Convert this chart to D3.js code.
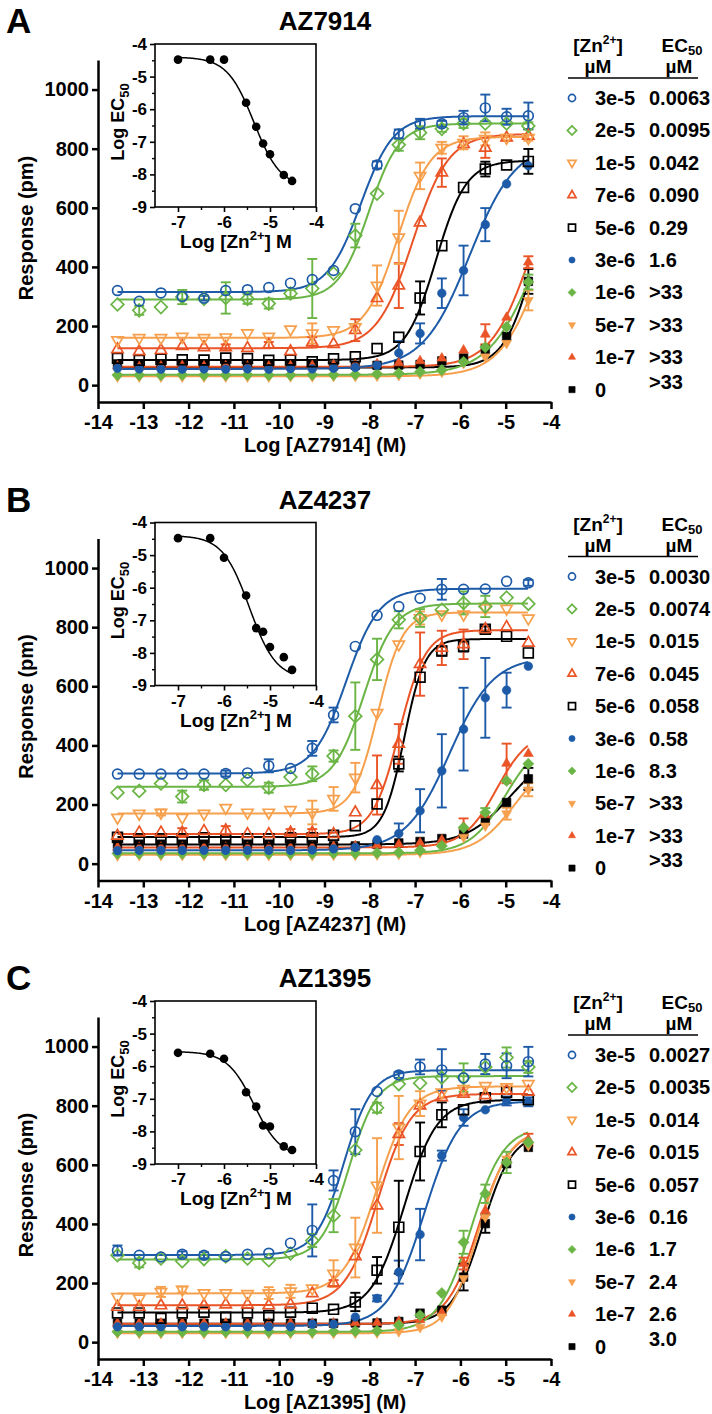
<!DOCTYPE html>
<html><head><meta charset="utf-8">
<script src="https://cdn.jsdelivr.net/npm/d3@7"></script>
<style>
body{margin:0;background:#fff;}
svg{display:block;font-family:"Liberation Sans",Arial,Helvetica,sans-serif;font-weight:bold;}
</style></head><body>
<svg id="chart" width="712" height="1414"></svg>
<script>
// ---------- shared categories ----------
const panelLetters = ["A", "B", "C"];
const compounds = ["AZ7914", "AZ4237", "AZ1395"];
const znLabels = ["3e-5", "2e-5", "1e-5", "7e-6", "5e-6", "3e-6", "1e-6", "5e-7", "1e-7", "0"];
const seriesColors = ["#1d5ba8", "#6ab545", "#f6a04d", "#ea5426", "#000000", "#1d5ba8", "#6ab545", "#f6a04d", "#ea5426", "#000000"];
const seriesShapes = ["circle", "diamond", "triDown", "triUp", "square", "circle", "diamond", "triDown", "triUp", "square"];
const seriesFilled = [false, false, false, false, false, true, true, true, true, true];
const logConc = [-13.57, -13.09, -12.61, -12.14, -11.66, -11.18, -10.70, -10.23, -9.75, -9.27, -8.80, -8.32, -7.84, -7.36, -6.89, -6.41, -5.93, -5.45, -4.98, -4.50];
const xTicks = [-14, -13, -12, -11, -10, -9, -8, -7, -6, -5, -4];
const yTicks = [0, 200, 400, 600, 800, 1000];
const insetXTicks = [-7, -6, -5, -4];
const insetXMinor = [-6.5, -5.5, -4.5];
const insetYTicks = [-4, -5, -6, -7, -8, -9];
const insetYMinor = [-4.5, -5.5, -6.5, -7.5, -8.5];
const insetLogZn = [-7, -6.3, -6, -5.52, -5.3, -5.15, -5, -4.7, -4.52];

// ---------- panel A (AZ7914) ----------
const respA = [
  [320, 284, 312, 300, 294, 320, 323, 330, 345, 357, 388, 597, 745, 850, 884, 884, 905, 938, 908, 911],
  [273, 253, 264, 298, 292, 295, 292, 276, 310, 327, 378, 506, 648, 813, 854, 867, 885, 885, 885, 877],
  [152, 160, 160, 164, 160, 162, 176, 164, 189, 175, 186, 196, 337, 500, 708, 803, 820, 833, 837, 837],
  [121, 114, 118, 132, 128, 128, 125, 136, 114, 145, 139, 186, 294, 337, 550, 719, 815, 803, 837, 843],
  [91, 84, 88, 86, 85, 92, 90, 84, 85, 79, 89, 96, 124, 162, 295, 472, 669, 731, 745, 757],
  [57, 55, 54, 54, 55, 54, 55, 54, 56, 55, 57, 60, 67, 109, 175, 311, 388, 543, 681, 742],
  [34, 34, 34, 35, 34, 34, 35, 34, 34, 35, 35, 36, 38, 40, 45, 51, 79, 128, 197, 349],
  [28, 28, 28, 28, 28, 28, 28, 28, 29, 29, 30, 30, 31, 33, 38, 44, 74, 96, 142, 287],
  [64, 62, 64, 66, 64, 65, 64, 64, 65, 66, 68, 70, 72, 75, 82, 91, 118, 172, 229, 416],
  [72, 68, 70, 70, 70, 72, 70, 70, 68, 68, 66, 67, 67, 68, 70, 82, 92, 121, 165, 351]
];
const errA = [
  [0, 0, 0, 0, 8, 0, 0, 0, 0, 0, 0, 0, 12, 15, 17, 10, 23, 45, 27, 45],
  [0, 15, 0, 24, 0, 53, 17, 17, 12, 100, 0, 40, 0, 20, 22, 10, 15, 0, 0, 12],
  [0, 0, 0, 0, 0, 0, 0, 0, 0, 34, 0, 0, 68, 90, 45, 20, 22, 22, 10, 10],
  [0, 0, 0, 0, 0, 10, 0, 10, 0, 17, 0, 37, 0, 76, 0, 48, 0, 34, 0, 0],
  [0, 0, 0, 0, 0, 0, 0, 0, 0, 0, 0, 0, 0, 0, 56, 0, 0, 25, 0, 42],
  [0, 0, 0, 0, 0, 0, 0, 0, 0, 0, 0, 0, 0, 40, 34, 50, 84, 56, 0, 0],
  [0, 0, 0, 0, 0, 0, 0, 0, 0, 0, 0, 0, 0, 0, 0, 0, 0, 0, 0, 25],
  [0, 0, 0, 0, 0, 0, 0, 0, 0, 0, 0, 0, 0, 0, 0, 0, 0, 0, 0, 34],
  [0, 0, 0, 0, 0, 0, 0, 0, 0, 0, 0, 0, 0, 0, 0, 0, 0, 34, 0, 20],
  [0, 0, 0, 0, 0, 0, 0, 0, 0, 0, 0, 0, 0, 0, 0, 0, 0, 0, 0, 42]
];
// fitted 4-parameter curves: [bottom, top, logEC50, hill]
const fitA = [
  [315, 910, -8.2, 1.2], [290, 885, -8.02, 1.3], [160, 840, -7.38, 1.2], [125, 850, -7.05, 1.1],
  [85, 760, -6.54, 1.3], [55, 820, -5.8, 0.85], [35, 800, -4.31, 0.83], [30, 800, -4.18, 0.94],
  [62, 800, -4.465, 1.0], [60, 800, -4.355, 1.3]
];
const ec50A = ["0.0063", "0.0095", "0.042", "0.090", "0.29", "1.6", ">33", ">33", ">33", ">33"];
const insetLogEC50A = [-4.48, -4.48, -4.48, -5.8, -6.54, -7.05, -7.38, -8.02, -8.2];
const insetFitA = [-4.4, -8.4, -5.35, 1.5]; // [top, bottom, logIC50, slope]

// ---------- panel B (AZ4237) ----------
const respB = [
  [303, 303, 303, 303, 303, 305, 307, 331, 322, 390, 503, 735, 840, 870, 898, 928, 928, 929, 955, 950],
  [240, 246, 271, 227, 266, 266, 283, 257, 293, 304, 364, 499, 691, 825, 831, 859, 882, 870, 900, 879],
  [156, 169, 173, 156, 169, 189, 173, 173, 182, 173, 219, 291, 510, 742, 831, 843, 843, 864, 863, 830],
  [94, 105, 105, 105, 110, 112, 100, 100, 105, 105, 100, 173, 266, 405, 675, 730, 742, 793, 800, 747],
  [89, 84, 84, 84, 88, 84, 84, 84, 88, 88, 96, 128, 202, 337, 631, 719, 735, 793, 769, 713],
  [44, 45, 45, 45, 45, 45, 45, 45, 45, 46, 50, 55, 81, 102, 179, 314, 455, 561, 587, 668],
  [34, 34, 34, 34, 34, 34, 34, 34, 34, 34, 35, 35, 36, 38, 45, 60, 122, 173, 280, 338],
  [27, 28, 28, 28, 28, 28, 28, 28, 28, 28, 29, 29, 30, 32, 38, 60, 90, 128, 169, 250],
  [55, 55, 55, 55, 55, 55, 55, 55, 55, 56, 58, 60, 62, 65, 70, 80, 125, 165, 339, 372],
  [65, 66, 66, 66, 66, 66, 66, 66, 67, 65, 61, 60, 65, 70, 75, 85, 100, 145, 207, 287]
];
const errB = [
  [0, 0, 0, 0, 0, 10, 0, 22, 0, 25, 25, 0, 0, 0, 0, 35, 0, 0, 0, 10],
  [0, 0, 0, 20, 16, 0, 0, 17, 0, 25, 19, 114, 70, 29, 30, 0, 39, 36, 0, 0],
  [0, 0, 10, 0, 0, 0, 0, 0, 0, 40, 40, 50, 0, 0, 22, 0, 0, 0, 0, 0],
  [0, 0, 0, 15, 0, 15, 0, 0, 12, 12, 0, 0, 100, 67, 107, 58, 50, 0, 0, 0],
  [0, 0, 0, 0, 0, 0, 0, 0, 0, 0, 0, 0, 0, 25, 0, 15, 17, 10, 0, 0],
  [0, 0, 0, 0, 0, 0, 0, 0, 0, 0, 0, 0, 0, 34, 73, 124, 140, 135, 59, 0],
  [0, 0, 0, 0, 0, 0, 0, 0, 0, 0, 0, 0, 0, 0, 0, 0, 0, 15, 0, 0],
  [0, 0, 0, 0, 0, 0, 0, 0, 0, 0, 0, 0, 0, 0, 0, 0, 0, 0, 20, 22],
  [0, 0, 0, 0, 0, 0, 0, 0, 0, 0, 0, 0, 0, 0, 0, 0, 28, 0, 67, 0],
  [0, 0, 0, 0, 0, 0, 0, 0, 0, 0, 0, 0, 0, 0, 0, 0, 0, 0, 0, 37]
];
const fitB = [
  [305, 930, -8.52, 1.2], [260, 880, -8.13, 1.3], [170, 850, -7.82, 1.6], [100, 790, -7.35, 1.5],
  [90, 760, -7.24, 1.9], [45, 700, -6.24, 0.9], [35, 430, -5.0, 1.1], [30, 370, -4.8, 1.0],
  [55, 450, -5.2, 1.2], [65, 390, -4.9, 0.9]
];
const ec50B = ["0.0030", "0.0074", "0.015", "0.045", "0.058", "0.58", "8.3", ">33", ">33", ">33"];
const insetLogEC50B = [-4.48, -4.48, -5.08, -6.24, -7.24, -7.35, -7.82, -8.13, -8.52];
const insetFitB = [-4.4, -8.8, -5.45, 1.5];

// ---------- panel C (AZ1395) ----------
const respC = [
  [310, 294, 288, 297, 294, 290, 297, 301, 335, 378, 547, 712, 848, 904, 931, 921, 894, 941, 935, 949],
  [294, 268, 283, 274, 281, 290, 283, 277, 300, 344, 428, 650, 793, 873, 876, 895, 895, 931, 963, 931],
  [153, 148, 170, 178, 166, 166, 163, 166, 172, 182, 232, 320, 530, 726, 807, 845, 857, 867, 863, 874],
  [119, 119, 124, 124, 124, 127, 127, 124, 127, 165, 200, 290, 462, 704, 800, 828, 840, 835, 850, 847],
  [99, 99, 81, 99, 101, 84, 99, 90, 101, 115, 111, 136, 243, 389, 645, 769, 786, 827, 845, 820],
  [52, 52, 52, 52, 52, 52, 52, 52, 52, 61, 61, 85, 148, 237, 364, 631, 760, 786, 816, 813],
  [35, 35, 35, 35, 35, 35, 35, 35, 35, 35, 36, 37, 38, 57, 91, 166, 338, 502, 608, 676],
  [30, 30, 30, 30, 30, 30, 30, 30, 30, 30, 30, 31, 32, 36, 50, 86, 216, 423, 620, 665],
  [64, 64, 64, 64, 64, 64, 64, 64, 64, 64, 64, 65, 66, 70, 75, 100, 266, 445, 615, 685],
  [64, 64, 64, 64, 64, 64, 64, 64, 64, 64, 64, 65, 65, 70, 98, 108, 220, 401, 604, 659]
];
const errC = [
  [17, 0, 0, 10, 10, 0, 0, 0, 0, 88, 34, 76, 0, 10, 25, 70, 0, 34, 42, 50],
  [0, 15, 0, 0, 0, 0, 0, 0, 0, 22, 56, 0, 17, 0, 0, 0, 48, 0, 34, 20],
  [0, 0, 17, 10, 0, 0, 0, 20, 22, 0, 45, 101, 160, 107, 42, 0, 0, 0, 0, 0],
  [0, 0, 0, 0, 0, 0, 0, 0, 0, 0, 10, 0, 0, 37, 0, 0, 0, 0, 0, 0],
  [0, 0, 0, 0, 0, 0, 0, 0, 0, 0, 0, 31, 45, 157, 98, 42, 0, 0, 0, 0],
  [0, 0, 0, 0, 0, 0, 0, 0, 0, 0, 0, 0, 10, 39, 87, 17, 28, 0, 15, 15],
  [0, 0, 0, 0, 0, 0, 0, 0, 0, 0, 0, 0, 0, 0, 0, 0, 39, 31, 36, 0],
  [0, 0, 0, 0, 0, 0, 0, 0, 0, 0, 0, 0, 0, 0, 0, 0, 0, 0, 0, 0],
  [0, 0, 0, 0, 0, 0, 0, 0, 0, 0, 0, 0, 0, 0, 0, 0, 20, 0, 0, 20],
  [0, 0, 0, 0, 0, 0, 0, 0, 0, 0, 0, 0, 0, 0, 0, 0, 45, 31, 0, 0]
];
const fitC = [
  [295, 920, -8.57, 1.4], [280, 900, -8.46, 1.4], [165, 865, -7.85, 1.2], [125, 840, -7.82, 1.2],
  [100, 820, -7.24, 1.2], [55, 815, -6.8, 1.1], [35, 730, -5.77, 1.2], [30, 720, -5.6, 1.3],
  [62, 720, -5.6, 1.25], [62, 710, -5.52, 1.3]
];
const ec50C = ["0.0027", "0.0035", "0.014", "0.015", "0.057", "0.16", "1.7", "2.4", "2.6", "3.0"];
const insetLogEC50C = [-5.59, -5.62, -5.77, -6.8, -7.24, -7.82, -7.85, -8.46, -8.57];
const insetFitC = [-5.55, -8.8, -5.35, 1.5];

const panels = [
  {resp: respA, err: errA, fit: fitA, ec50: ec50A, inY: insetLogEC50A, inFit: insetFitA},
  {resp: respB, err: errB, fit: fitB, ec50: ec50B, inY: insetLogEC50B, inFit: insetFitB},
  {resp: respC, err: errC, fit: fitC, ec50: ec50C, inY: insetLogEC50C, inFit: insetFitC}
];
const panelOffsets = [0, 478.5, 957];

// ---------- drawing ----------
const svg = d3.select("#chart");
svg.append("rect").attr("width", 712).attr("height", 1414).attr("fill", "#fff");

function symPath(shape, s) {
  if (shape === "circle") return `M${s},0A${s},${s} 0 1,1 ${-s},0A${s},${s} 0 1,1 ${s},0Z`;
  if (shape === "square") return `M${-s},${-s}H${s}V${s}H${-s}Z`;
  if (shape === "diamond") { const d = s * 1.3; return `M0,${-d}L${d},0L0,${d}L${-d},0Z`; }
  const a = s * 2.3, h = a * Math.sqrt(3) / 2;
  if (shape === "triUp") return `M0,${-h * 2 / 3}L${a / 2},${h / 3}L${-a / 2},${h / 3}Z`;
  return `M0,${h * 2 / 3}L${a / 2},${-h / 3}L${-a / 2},${-h / 3}Z`;
}
function drawMarker(g, i, cx, cy, scale) {
  const filled = seriesFilled[i];
  const s = (filled ? 4.3 : 4.9) * scale;
  g.append("path").attr("d", symPath(seriesShapes[i], s))
    .attr("transform", `translate(${cx},${cy})`)
    .attr("fill", filled ? seriesColors[i] : "none")
    .attr("stroke", seriesColors[i])
    .attr("stroke-width", filled ? 0.6 : 1.7);
}
const hill = (p, x) => p[0] + (p[1] - p[0]) / (1 + Math.pow(10, (p[2] - x) * p[3]));
const hillDown = (p, x) => p[1] + (p[0] - p[1]) / (1 + Math.pow(10, (x - p[2]) * p[3]));

const x = d3.scaleLinear().domain([-14, -4]).range([98, 551]);
const y = d3.scaleLinear().domain([-57, 1100]).range([402, 60]);
const ix = d3.scaleLinear().domain([-7.5, -4]).range([155, 316]);
const iy = d3.scaleLinear().domain([-9, -4]).range([207, 44]);

function styleAxis(ax, fs, sw) {
  ax.select(".domain").attr("stroke", "#000").attr("stroke-width", sw);
  ax.selectAll(".tick line").attr("stroke", "#000").attr("stroke-width", sw);
  ax.selectAll(".tick text").attr("fill", "#000").attr("font-size", fs)
    .attr("font-weight", "bold").attr("font-family", '"Liberation Sans",Arial,sans-serif');
}

panels.forEach((P, pi) => {
  const g = svg.append("g").attr("transform", `translate(0,${panelOffsets[pi]})`);

  // panel letter & title
  g.append("text").attr("x", 6).attr("y", 33).attr("font-size", 35).text(panelLetters[pi]);
  g.append("text").attr("x", 325).attr("y", 30).attr("text-anchor", "middle").attr("font-size", 26).text(compounds[pi]);

  // main axes
  const ax = g.append("g").attr("transform", "translate(0,402)")
    .call(d3.axisBottom(x).tickValues(xTicks).tickSize(7).tickSizeOuter(0).tickPadding(6).tickFormat(d => String(d)));
  styleAxis(ax, 20, 2.5);
  const ay = g.append("g").attr("transform", "translate(98,0)")
    .call(d3.axisLeft(y).tickValues(yTicks).tickSize(6).tickSizeOuter(0).tickPadding(3).tickFormat(d => String(d)));
  styleAxis(ay, 20, 2.5);
  g.append("text").attr("x", 325).attr("y", 452).attr("text-anchor", "middle").attr("font-size", 20)
    .text(`Log [${compounds[pi]}] (M)`);
  g.append("text").attr("transform", "translate(33,228) rotate(-90)").attr("text-anchor", "middle")
    .attr("font-size", 20).text("Response (pm)");

  // curves
  const xs = d3.range(logConc[0], logConc[19] + 0.001, 0.02);
  const line = d3.line().x(d => x(d[0])).y(d => y(d[1]));
  for (let i = 9; i >= 0; i--) {
    g.append("path").attr("d", line(xs.map(v => [v, hill(P.fit[i], v)])))
      .attr("fill", "none").attr("stroke", seriesColors[i]).attr("stroke-width", 2);
  }
  // error bars
  for (let i = 9; i >= 0; i--) {
    P.resp[i].forEach((v, k) => {
      const e = P.err[i][k];
      if (!e) return;
      const cx = x(logConc[k]), y1 = y(v - e), y2 = y(v + e);
      const eb = g.append("g").attr("stroke", seriesColors[i]).attr("stroke-width", 1.9);
      eb.append("line").attr("x1", cx).attr("x2", cx).attr("y1", y1).attr("y2", y2);
      eb.append("line").attr("x1", cx - 5).attr("x2", cx + 5).attr("y1", y1).attr("y2", y1);
      eb.append("line").attr("x1", cx - 5).attr("x2", cx + 5).attr("y1", y2).attr("y2", y2);
    });
  }
  // markers
  for (let i = 9; i >= 0; i--) {
    P.resp[i].forEach((v, k) => drawMarker(g, i, x(logConc[k]), y(v), 1));
  }

  // inset
  const ig = g.append("g");
  ig.append("rect").attr("x", 155).attr("y", 44).attr("width", 161).attr("height", 163)
    .attr("fill", "#fff").attr("stroke", "#000").attr("stroke-width", 1.6);
  const iax = ig.append("g").attr("transform", "translate(0,207)")
    .call(d3.axisBottom(ix).tickValues(insetXTicks).tickSize(5).tickSizeOuter(0).tickPadding(4).tickFormat(d => String(d)));
  styleAxis(iax, 17, 1.6);
  iax.select(".domain").remove();
  ig.append("g").attr("transform", "translate(0,207)")
    .call(d3.axisBottom(ix).tickValues(insetXMinor).tickSize(3).tickFormat(""))
    .call(a => { a.select(".domain").remove(); a.selectAll("line").attr("stroke-width", 1.4); });
  const iay = ig.append("g").attr("transform", "translate(155,0)")
    .call(d3.axisLeft(iy).tickValues(insetYTicks).tickSize(5).tickSizeOuter(0).tickPadding(3).tickFormat(d => String(d)));
  styleAxis(iay, 17, 1.6);
  iay.select(".domain").remove();
  ig.append("g").attr("transform", "translate(155,0)")
    .call(d3.axisLeft(iy).tickValues(insetYMinor).tickSize(3).tickFormat(""))
    .call(a => { a.select(".domain").remove(); a.selectAll("line").attr("stroke-width", 1.4); });
  const ixs = d3.range(-7, -4.52 + 0.001, 0.02);
  const iline = d3.line().x(d => ix(d[0])).y(d => iy(d[1]));
  ig.append("path").attr("d", iline(ixs.map(v => [v, hillDown(P.inFit, v)])))
    .attr("fill", "none").attr("stroke", "#000").attr("stroke-width", 1.5);
  P.inY.forEach((v, k) => ig.append("circle").attr("cx", ix(insetLogZn[k])).attr("cy", iy(v)).attr("r", 4.3).attr("fill", "#000"));
  const xl = ig.append("text").attr("x", 236).attr("y", 248).attr("text-anchor", "middle").attr("font-size", 19);
  xl.append("tspan").text("Log [Zn");
  xl.append("tspan").attr("font-size", 13).attr("dy", -8).text("2+");
  xl.append("tspan").attr("dy", 8).text("] M");
  const yl = ig.append("text").attr("transform", "translate(124,122) rotate(-90)").attr("text-anchor", "middle").attr("font-size", 18);
  yl.append("tspan").text("Log EC");
  yl.append("tspan").attr("font-size", 13).attr("dy", 5).text("50");

  // legend table
  const lg = g.append("g");
  const h1 = lg.append("text").attr("x", 598).attr("y", 52).attr("text-anchor", "middle").attr("font-size", 19);
  h1.append("tspan").text("[Zn");
  h1.append("tspan").attr("font-size", 12).attr("dy", -8).text("2+");
  h1.append("tspan").attr("dy", 8).text("]");
  lg.append("text").attr("x", 598).attr("y", 73).attr("text-anchor", "middle").attr("font-size", 19).text("µM");
  const h2 = lg.append("text").attr("x", 682).attr("y", 52).attr("text-anchor", "middle").attr("font-size", 19);
  h2.append("tspan").text("EC");
  h2.append("tspan").attr("font-size", 13).attr("dy", 3).text("50");
  lg.append("text").attr("x", 679).attr("y", 73).attr("text-anchor", "middle").attr("font-size", 19).text("µM");
  lg.append("line").attr("x1", 568).attr("x2", 698).attr("y1", 78).attr("y2", 78).attr("stroke", "#000").attr("stroke-width", 1.5);
  znLabels.forEach((lab, k) => {
    const cy = 98 + k * 32.4;
    drawMarker(lg, k, 572, cy, 0.72);
    lg.append("text").attr("x", 595).attr("y", cy + 7).attr("font-size", 20).text(lab);
    lg.append("text").attr("x", 649).attr("y", cy + (k === 9 ? -1 : 7)).attr("font-size", 20).text(P.ec50[k]);
  });
});
</script></body></html>
